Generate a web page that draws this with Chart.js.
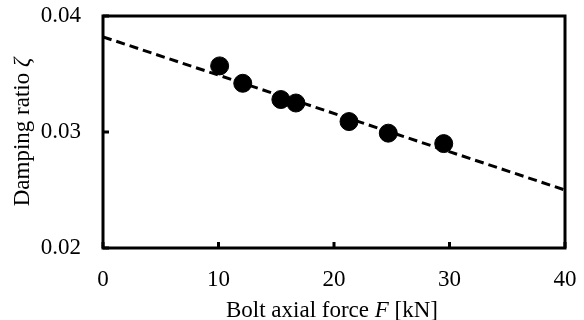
<!DOCTYPE html>
<html>
<head>
<meta charset="utf-8">
<script src="https://cdn.jsdelivr.net/npm/chart.js@4"></script>
<style>
  html, body { margin: 0; padding: 0; background: #fff; }
  #wrap { width: 584px; height: 320px; }
</style>
</head>
<body>
<div id="wrap"><canvas id="myChart"></canvas></div>
<script>
// measured points
const forceKN = [10.1, 12.1, 15.4, 16.7, 21.3, 24.7, 29.5];
const dampingRatio = [0.0357, 0.0342, 0.0328, 0.0325, 0.0309, 0.0299, 0.0290];

// fitted line
const fitX = [0, 40];
const fitY = [0.0382, 0.025];

const xTicks = [0, 10, 20, 30, 40];
const yTicks = [0.02, 0.03, 0.04];

const serif = "'Liberation Serif', 'Times New Roman', serif";

// box around the plot, inward ticks and the axis titles with italic parts
const framePlugin = {
  id: "frame",
  afterDraw(chart) {
    const ctx = chart.ctx;
    const a = chart.chartArea;
    const xs = chart.scales.x;
    const ys = chart.scales.y;
    ctx.save();
    ctx.strokeStyle = "#000";
    ctx.lineWidth = 3;
    ctx.strokeRect(a.left, a.top, a.right - a.left, a.bottom - a.top);

    ctx.beginPath();
    for (const t of xTicks) {
      const px = xs.getPixelForValue(t);
      ctx.moveTo(px, a.bottom);
      ctx.lineTo(px, a.bottom - 6);
    }
    for (const t of yTicks) {
      const py = ys.getPixelForValue(t);
      ctx.moveTo(a.left, py);
      ctx.lineTo(a.left + 6, py);
    }
    ctx.stroke();

    ctx.fillStyle = "#000";
    ctx.textBaseline = "alphabetic";
    const normal = "23px " + serif;
    const italic = "italic 23px " + serif;

    // x title
    const xParts = [["Bolt axial force ", normal], ["F", italic], [" [kN]", normal]];
    let w = 0;
    for (const p of xParts) { ctx.font = p[1]; w += ctx.measureText(p[0]).width; }
    let x = (a.left + a.right) / 2 - w / 2 - 2;
    for (const p of xParts) {
      ctx.font = p[1];
      ctx.fillText(p[0], x, 317);
      x += ctx.measureText(p[0]).width;
    }

    // y title
    const yParts = [["Damping ratio ", normal], ["\u03B6", italic]];
    w = 0;
    for (const p of yParts) { ctx.font = p[1]; w += ctx.measureText(p[0]).width; }
    ctx.translate(29, (a.top + a.bottom) / 2);
    ctx.rotate(-Math.PI / 2);
    x = -w / 2;
    for (const p of yParts) {
      ctx.font = p[1];
      ctx.fillText(p[0], x, 0);
      x += ctx.measureText(p[0]).width;
    }
    ctx.restore();
  }
};

const grafica = document.getElementById("myChart").getContext("2d");

new Chart(grafica, {
  type: "scatter",
  data: {
    datasets: [
      {
        label: "Measured",
        data: forceKN.map((f, i) => ({ x: f, y: dampingRatio[i] })),
        backgroundColor: "#000",
        borderColor: "#000",
        pointRadius: 9,
        pointHoverRadius: 9,
      },
      {
        type: "line",
        label: "Fit",
        data: fitX.map((f, i) => ({ x: f, y: fitY[i] })),
        borderColor: "#000",
        borderWidth: 3,
        borderDash: [9, 5],
        pointRadius: 0,
        fill: false,
      },
    ],
  },
  options: {
    responsive: true,
    maintainAspectRatio: false,
    animation: false,
    events: [],
    layout: { padding: { top: 16, right: 19, left: 0, bottom: 0 } },
    plugins: {
      legend: { display: false },
      tooltip: { enabled: false },
    },
    scales: {
      x: {
        type: "linear",
        min: 0,
        max: 40,
        afterBuildTicks: (s) => { s.ticks = xTicks.map((v) => ({ value: v })); },
        afterFit: (s) => { s.height = 72; s.paddingLeft = 0; s.paddingRight = 0; },
        grid: { display: false },
        border: { display: false },
        ticks: {
          color: "#000",
          padding: 10,
          maxRotation: 0,
          font: { family: serif, size: 23 },
        },
      },
      y: {
        type: "linear",
        min: 0.02,
        max: 0.04,
        afterBuildTicks: (s) => { s.ticks = yTicks.map((v) => ({ value: v })); },
        afterFit: (s) => { s.width = 103; s.paddingTop = 0; s.paddingBottom = 0; },
        grid: { display: false },
        border: { display: false },
        ticks: {
          color: "#000",
          padding: 14,
          font: { family: serif, size: 23 },
          callback: (v) => v.toFixed(2),
        },
      },
    },
  },
  plugins: [framePlugin],
});
</script>
</body>
</html>
